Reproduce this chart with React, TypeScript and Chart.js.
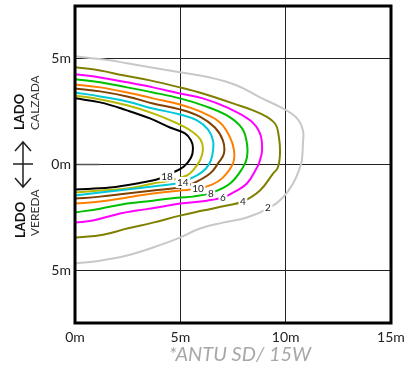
import React, { useEffect, useRef } from "react";
import { Chart, registerables } from "chart.js";
Chart.register(...registerables);

// Axis ticks (metres)
const xTicks = [0, 5, 10, 15];
const yTicks = [-5, 0, 5];

// Isolux levels (lux) and colours
const levels = [2, 4, 6, 8, 10, 12, 14, 16, 18];
const levelColors = ["#c8c8c8", "#808000", "#ff00ff", "#00c000", "#ff8000", "#804000", "#00c8d8", "#b8b800", "#000000"];

// Contour paths [x m, y m]
const c2 = [[0,5.12],[1.66,4.93],[2.47,4.79],[3.56,4.6],[4.98,4.36],[6.41,4.12],[7.69,3.74],[8.78,3.18],[9.87,2.65],[10.54,2.18],[10.82,1.61],[10.82,1.0],[10.77,0.19],[10.68,-0.14],[10.35,-0.9],[9.87,-1.56],[9.25,-2.04],[8.16,-2.51],[7.02,-2.75],[5.93,-3.03],[4.98,-3.46],[3.7,-3.93],[2.47,-4.31],[1.19,-4.55],[0,-4.69]];
const c4 = [[0,4.6],[1.19,4.45],[2.28,4.22],[3.56,3.98],[4.98,3.65],[6.07,3.36],[7.5,2.89],[8.78,2.42],[9.49,1.94],[9.68,1.28],[9.73,0.52],[9.63,-0.14],[9.4,-0.43],[8.78,-1.23],[7.97,-1.75],[7.21,-1.94],[6.07,-2.18],[4.98,-2.42],[3.7,-2.75],[2.47,-3.03],[1.33,-3.32],[0,-3.46]];
const c6 = [[0,4.27],[1.19,4.12],[2.47,3.89],[3.7,3.65],[4.98,3.36],[6.07,3.13],[7.21,2.7],[8.31,2.09],[8.78,1.47],[8.88,0.66],[8.73,0.05],[8.64,-0.14],[8.16,-0.9],[7.5,-1.33],[7.02,-1.56],[6.26,-1.71],[4.98,-1.85],[3.89,-2.04],[2.94,-2.18],[2.14,-2.32],[0.85,-2.65],[0,-2.75]];
const c8 = [[0,4.03],[1.19,3.89],[2.47,3.65],[3.7,3.41],[4.98,3.13],[6.07,2.8],[7.21,2.32],[7.93,1.71],[8.16,1.0],[8.16,0.33],[7.97,-0.14],[7.36,-0.9],[6.5,-1.33],[5.6,-1.52],[4.98,-1.56],[3.7,-1.71],[2.47,-1.85],[1.19,-2.09],[0,-2.27]];
const c10 = [[0,3.79],[1.19,3.65],[2.47,3.41],[3.7,3.13],[4.98,2.84],[5.93,2.51],[6.88,1.99],[7.36,1.28],[7.55,0.66],[7.5,0.05],[7.02,-0.62],[6.5,-0.95],[5.84,-1.14],[4.98,-1.23],[3.7,-1.37],[2.47,-1.56],[1.19,-1.75],[0,-1.85]];
const c12 = [[0,3.6],[1.19,3.46],[2.47,3.22],[3.7,2.89],[4.98,2.61],[5.93,2.27],[6.64,1.75],[7.02,1.14],[7.07,0.52],[6.79,0.05],[6.41,-0.43],[5.6,-0.9],[4.98,-1.09],[3.7,-1.23],[2.47,-1.37],[1.19,-1.52],[0,-1.61]];
const c14 = [[0,3.41],[1.19,3.22],[2.47,2.98],[3.7,2.65],[4.98,2.37],[5.79,2.09],[6.31,1.66],[6.55,1.14],[6.55,0.66],[6.45,0.19],[6.22,-0.19],[5.79,-0.52],[5.12,-0.81],[4.84,-0.9],[3.7,-1.04],[2.47,-1.18],[1.19,-1.33],[0,-1.47]];
const c16 = [[0,3.27],[1.19,3.08],[2.47,2.8],[3.7,2.42],[4.75,1.99],[5.55,1.56],[5.98,1.14],[6.07,0.66],[5.93,0.19],[5.6,-0.28],[5.31,-0.52],[4.51,-0.76],[3.7,-0.9],[2.47,-1.14],[1.19,-1.23],[0,-1.33]];
const c18 = [[0,3.13],[1.19,2.94],[2.47,2.56],[3.56,2.18],[4.51,1.75],[5.22,1.47],[5.51,1.14],[5.6,0.76],[5.51,0.33],[5.17,-0.09],[4.65,-0.38],[4.03,-0.66],[2.94,-0.9],[1.66,-1.09],[0,-1.18]];
const contours = [c2, c4, c6, c8, c10, c12, c14, c16, c18];

// Contour labels
const labelText = ["18", "14", "10", "8", "6", "4", "2"];
const labelX = [4.37, 5.12, 5.84, 6.45, 7.02, 7.97, 9.16];
const labelY = [-0.55, -0.85, -1.14, -1.35, -1.56, -1.75, -2.04];

const titleText = "*ANTU SD/ 15W";

const FONT = "Lato, 'DejaVu Sans', sans-serif";

const decorPlugin = {
  id: "decor",
  afterDatasetsDraw(chart: any) {
    const { ctx, chartArea, scales } = chart;
    const xs = scales.x, ys = scales.y;
    ctx.save();
    // contour labels
    ctx.font = "10px " + FONT;
    ctx.textAlign = "center";
    ctx.textBaseline = "middle";
    for (let i = 0; i < labelText.length; i++) {
      const px = xs.getPixelForValue(labelX[i]);
      const py = ys.getPixelForValue(labelY[i]);
      const w = ctx.measureText(labelText[i]).width + 3;
      ctx.fillStyle = "#ffffff";
      ctx.fillRect(px - w / 2, py - 5.5, w, 11);
      ctx.fillStyle = "#222";
      ctx.fillText(labelText[i], px, py + 0.5);
    }
    // short mark on 0m line
    ctx.strokeStyle = "#555";
    ctx.lineWidth = 1.5;
    ctx.beginPath();
    ctx.moveTo(chartArea.left, ys.getPixelForValue(0));
    ctx.lineTo(xs.getPixelForValue(1.15), ys.getPixelForValue(0));
    ctx.stroke();
    // frame
    ctx.strokeStyle = "#000";
    ctx.lineWidth = 3;
    ctx.strokeRect(chartArea.left, chartArea.top, chartArea.right - chartArea.left, chartArea.bottom - chartArea.top);
    ctx.restore();
  },
  afterDraw(chart: any) {
    const { ctx } = chart;
    ctx.save();
    const vtext = (t: string, x: number, y: number, font: string, color: string) => {
      ctx.save();
      ctx.translate(x, y);
      ctx.rotate(-Math.PI / 2);
      ctx.font = font;
      ctx.fillStyle = color;
      ctx.textAlign = "left";
      ctx.textBaseline = "middle";
      ctx.fillText(t, 0, 0);
      ctx.restore();
    };
    vtext("LADO", 20, 130, "bold 13px " + FONT, "#111");
    vtext("CALZADA", 35, 130, "12px " + FONT, "#333");
    vtext("LADO", 21, 238, "bold 13px " + FONT, "#111");
    vtext("VEREDA", 35, 236, "12px " + FONT, "#333");
    // double arrow
    ctx.strokeStyle = "#222";
    ctx.lineWidth = 1.5;
    ctx.beginPath();
    ctx.moveTo(23, 142); ctx.lineTo(23, 187);
    ctx.moveTo(15, 151); ctx.lineTo(23, 142); ctx.lineTo(31, 151);
    ctx.moveTo(15, 178); ctx.lineTo(23, 187); ctx.lineTo(31, 178);
    ctx.moveTo(13, 164); ctx.lineTo(33, 164);
    ctx.stroke();
    // bottom title
    ctx.font = "italic 20px " + FONT;
    ctx.fillStyle = "#a8a8a8";
    ctx.textAlign = "center";
    ctx.textBaseline = "middle";
    ctx.fillText(titleText, 240, 355);
    ctx.restore();
  },
};

export default function App() {
  const ref = useRef<HTMLCanvasElement | null>(null);
  useEffect(() => {
    if (!ref.current) return;
    const chart = new Chart(ref.current, {
      type: "line",
      data: {
        datasets: contours.map((c, i) => ({
          label: levels[i] + " lx",
          data: c.map((p) => ({ x: p[0], y: p[1] })),
          borderColor: levelColors[i],
          borderWidth: 2,
          pointRadius: 0,
          tension: 0.4,
          fill: false,
        })),
      },
      options: {
        responsive: false,
        animation: false,
        events: [],
        layout: { padding: { left: 0, top: 6, right: 17, bottom: 0 } },
        plugins: { legend: { display: false }, tooltip: { enabled: false } },
        scales: {
          x: {
            type: "linear",
            min: 0,
            max: 15,
            afterBuildTicks: (s: any) => { s.ticks = xTicks.map((v) => ({ value: v })); },
            afterFit: (s: any) => { s.height = 48; s.paddingLeft = 0; s.paddingRight = 0; },
            grid: { color: "#222", lineWidth: 1, drawTicks: false },
            border: { display: false },
            ticks: {
              padding: 6,
              color: "#222",
              font: { family: FONT, size: 14 },
              maxRotation: 0,
              callback: (v: any) => v + "m",
            },
          },
          y: {
            type: "linear",
            min: -7.5,
            max: 7.5,
            afterBuildTicks: (s: any) => { s.ticks = yTicks.map((v) => ({ value: v })); },
            afterFit: (s: any) => { s.width = 75; s.paddingTop = 0; s.paddingBottom = 0; },
            grid: { color: "#222", lineWidth: 1, drawTicks: false },
            border: { display: false },
            ticks: {
              padding: 4,
              color: "#222",
              font: { family: FONT, size: 14 },
              callback: (v: any) => Math.abs(v) + "m",
            },
          },
        },
      },
      plugins: [decorPlugin],
    } as any);
    return () => chart.destroy();
  }, []);
  return (
    <div style={{ position: "fixed", left: 0, top: 0, width: 408, height: 371, background: "#fff" }}>
      <canvas ref={ref} width={408} height={371} style={{ display: "block" }} />
    </div>
  );
}
